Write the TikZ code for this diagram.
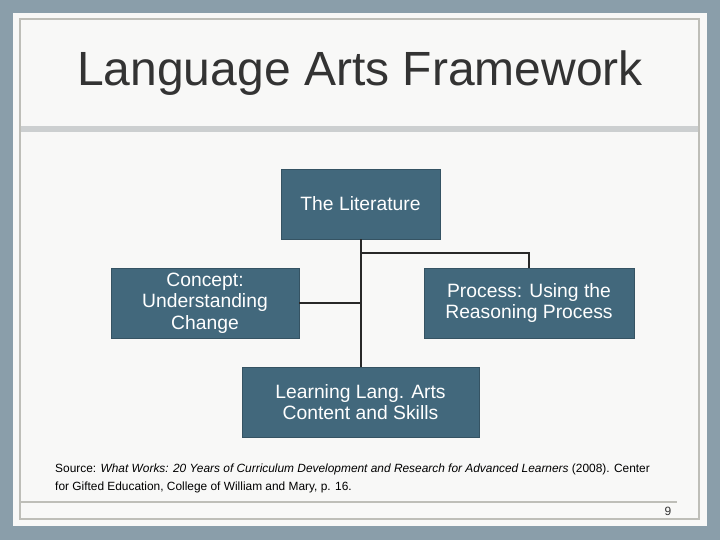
\documentclass[tikz,border=0pt]{standalone}
\usepackage{fontspec}
\setmainfont{Liberation Sans}
\definecolor{bgblue}{RGB}{138,158,170}
\definecolor{panel}{RGB}{248,248,247}
\definecolor{framegrey}{RGB}{190,190,184}
\definecolor{barsgrey}{RGB}{204,207,208}
\definecolor{boxteal}{RGB}{66,104,124}
\definecolor{titlegrey}{RGB}{51,51,51}
\definecolor{linedark}{RGB}{40,40,40}
\tikzset{
  orgbox/.style={fill=boxteal, draw=boxteal!80!black, line width=0.5pt, text=white, align=center,
    font=\fontsize{19.3}{21.5}\selectfont, inner sep=0pt},
  link/.style={draw=linedark, line width=2pt},
  frameline/.style={draw=framegrey, line width=2pt}
}
\begin{document}
\begin{tikzpicture}[x=1pt,y=-1pt]
\useasboundingbox (0,0) rectangle (720,540);
\fill[bgblue] (0,0) rectangle (720,540);
\fill[panel] (13,13) rectangle (707,526);
% inner frame
\draw[frameline] (19.5,19.5) -- (699,19.5) -- (699,519) -- (19.5,519) -- cycle;
\fill[barsgrey] (20.5,126) rectangle (698,132);
\draw[draw=framegrey, line width=1.5pt] (20.5,502) -- (677,502);
% title
\node[font=\fontsize{48}{56}\selectfont, text=titlegrey] (title) at (360,73) {Language Arts Framework};
% boxes
\node[orgbox, minimum width=159pt, minimum height=70pt] (lit) at (360.5,204) {The Literature};
\node[orgbox, minimum width=188pt, minimum height=70pt] (con) at (205,303) {Concept:\\Understanding\\Change};
\node[orgbox, minimum width=210pt, minimum height=70pt] (proc) at (529,303) {Process: Using the\\Reasoning Process};
\node[orgbox, minimum width=237pt, minimum height=70pt] (learn) at (360.5,402) {Learning Lang. Arts\\Content and Skills};
% connectors
\coordinate (j1) at (360.5,253);
\draw[link] (lit.south) -- (learn.north);
\draw[link] (j1) -| (proc.north);
\draw[link] (con.east) -- (con.east -| lit.south);
% source
\node[anchor=north west, align=left, font=\fontsize{11.9}{18}\selectfont, inner sep=0pt] (src) at (55,464)
 {Source: \textit{What Works: 20 Years of Curriculum Development and Research for Advanced Learners} (2008). Center\\for Gifted Education, College of William and Mary, p. 16.};
\node[font=\fontsize{12}{14}\selectfont, text=titlegrey] (pg) at (668,511) {9};
\end{tikzpicture}
\end{document}
